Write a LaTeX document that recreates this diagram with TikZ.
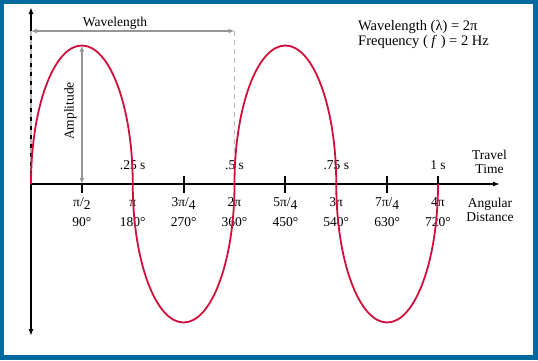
\documentclass[tikz,border=0pt]{standalone}
\usepackage{fontspec}
\setmainfont{Liberation Serif}
\usetikzlibrary{arrows.meta}
\definecolor{frameblue}{RGB}{0,105,160}
\definecolor{wavered}{RGB}{208,16,58}
\definecolor{arrowgrey}{RGB}{150,150,150}
\definecolor{dashgrey}{RGB}{185,185,185}
\begin{document}
\begin{tikzpicture}[x=1pt,y=1pt,
  lbl/.style={inner sep=0pt, anchor=base, font=\fontsize{13.5}{15}\selectfont},
  lblw/.style={inner sep=0pt, anchor=base west, font=\fontsize{14.5}{15}\selectfont},
  axisline/.style={black, line width=1.6pt},
  tickmark/.style={black, line width=2pt},
  dim/.style={arrowgrey, line width=1.6pt, {Latex[length=6pt,width=5pt]}-{Latex[length=6pt,width=5pt]}},
  guide/.style={dashgrey, line width=1.8pt, dash pattern=on 5pt off 4pt},
  wave/.style={wavered, line width=1.8pt}]
\useasboundingbox (0,0) rectangle (538,360);
\fill[frameblue] (0,0) rectangle (538,360);
\fill[white] (4,5) rectangle (533,356);
% coordinates
\coordinate (O) at (31,176);
\coordinate (ytop) at (31,353);
\coordinate (ybot) at (31,24);
\coordinate (xend) at (500,176);
\coordinate (wlL) at (31,329);
\coordinate (wlR) at (234.5,329);
\coordinate (twopi) at (234.5,176);
\coordinate (peak) at (81.875,314.5);
\coordinate (halfpi) at (81.875,176);
% axes
\draw[axisline, {Latex[length=7pt,width=5pt]}-{Latex[length=7pt,width=5pt]}] (ytop) -- (ybot);
\draw[axisline, -{Latex[length=7pt,width=5pt]}] (O) -- (xend);
% dashed guides
\draw[guide] (wlL) -- (O);
\draw[guide] (wlR) -- (twopi);
% ticks
\draw[tickmark] (halfpi) -- ++(0,-8.5);
\foreach \k in {3,5,7,8} \draw[tickmark] (31+\k*50.875,167.5) -- ++(0,17);
% dimension arrows
\draw[dim] (wlL) -- (wlR);
\draw[dim] (peak) -- (halfpi);
% labels
\node[lbl] (wl) at (115,334) {Wavelength};
\node[lbl, rotate=90] (amp) at (73.5,249) {Amplitude};
\node[lblw] (info1) at (358,329.3) {Wavelength (λ) = 2π};
\node[lblw] (info2) at (358,314.3) {Frequency ( \textit{f} ) = 2 Hz};
\node[lbl] (t1) at (132.75,191) {.25 s};
\node[lbl] (t2) at (234.5,191) {.5 s};
\node[lbl] (t3) at (336.25,191) {.75 s};
\node[lbl] (t4) at (438,191) {1 s};
\node[lbl] (tt1) at (489.5,201) {Travel};
\node[lbl] (tt2) at (489.5,187) {Time};
\node[lbl] (ad1) at (490,153) {Angular};
\node[lbl] (ad2) at (490,139) {Distance};
\node[lbl] (a1) at (81.875,154) {π/\raisebox{-3.5pt}{2}};
\node[lbl] (a2) at (132.75,154) {π};
\node[lbl] (a3) at (183.6,154) {3π/\raisebox{-3.5pt}{4}};
\node[lbl] (a4) at (234.5,154) {2π};
\node[lbl] (a5) at (285.4,154) {5π/\raisebox{-3.5pt}{4}};
\node[lbl] (a6) at (336.25,154) {3π};
\node[lbl] (a7) at (387.1,154) {7π/\raisebox{-3.5pt}{4}};
\node[lbl] (a8) at (438,154) {4π};
\node[lbl] (d1) at (81.875,134) {90°};
\node[lbl] (d2) at (132.75,134) {180°};
\node[lbl] (d3) at (183.6,134) {270°};
\node[lbl] (d4) at (234.5,134) {360°};
\node[lbl] (d5) at (285.4,134) {450°};
\node[lbl] (d6) at (336.25,134) {540°};
\node[lbl] (d7) at (387.1,134) {630°};
\node[lbl] (d8) at (438,134) {720°};
% wave (half-ellipse lobes)
\draw[wave] (O)
  arc[start angle=180, end angle=0, x radius=50.875, y radius=138.5]
  arc[start angle=180, end angle=360, x radius=50.875, y radius=138.5]
  arc[start angle=180, end angle=0, x radius=50.875, y radius=138.5]
  arc[start angle=180, end angle=360, x radius=50.875, y radius=138.5];
\end{tikzpicture}
\end{document}
